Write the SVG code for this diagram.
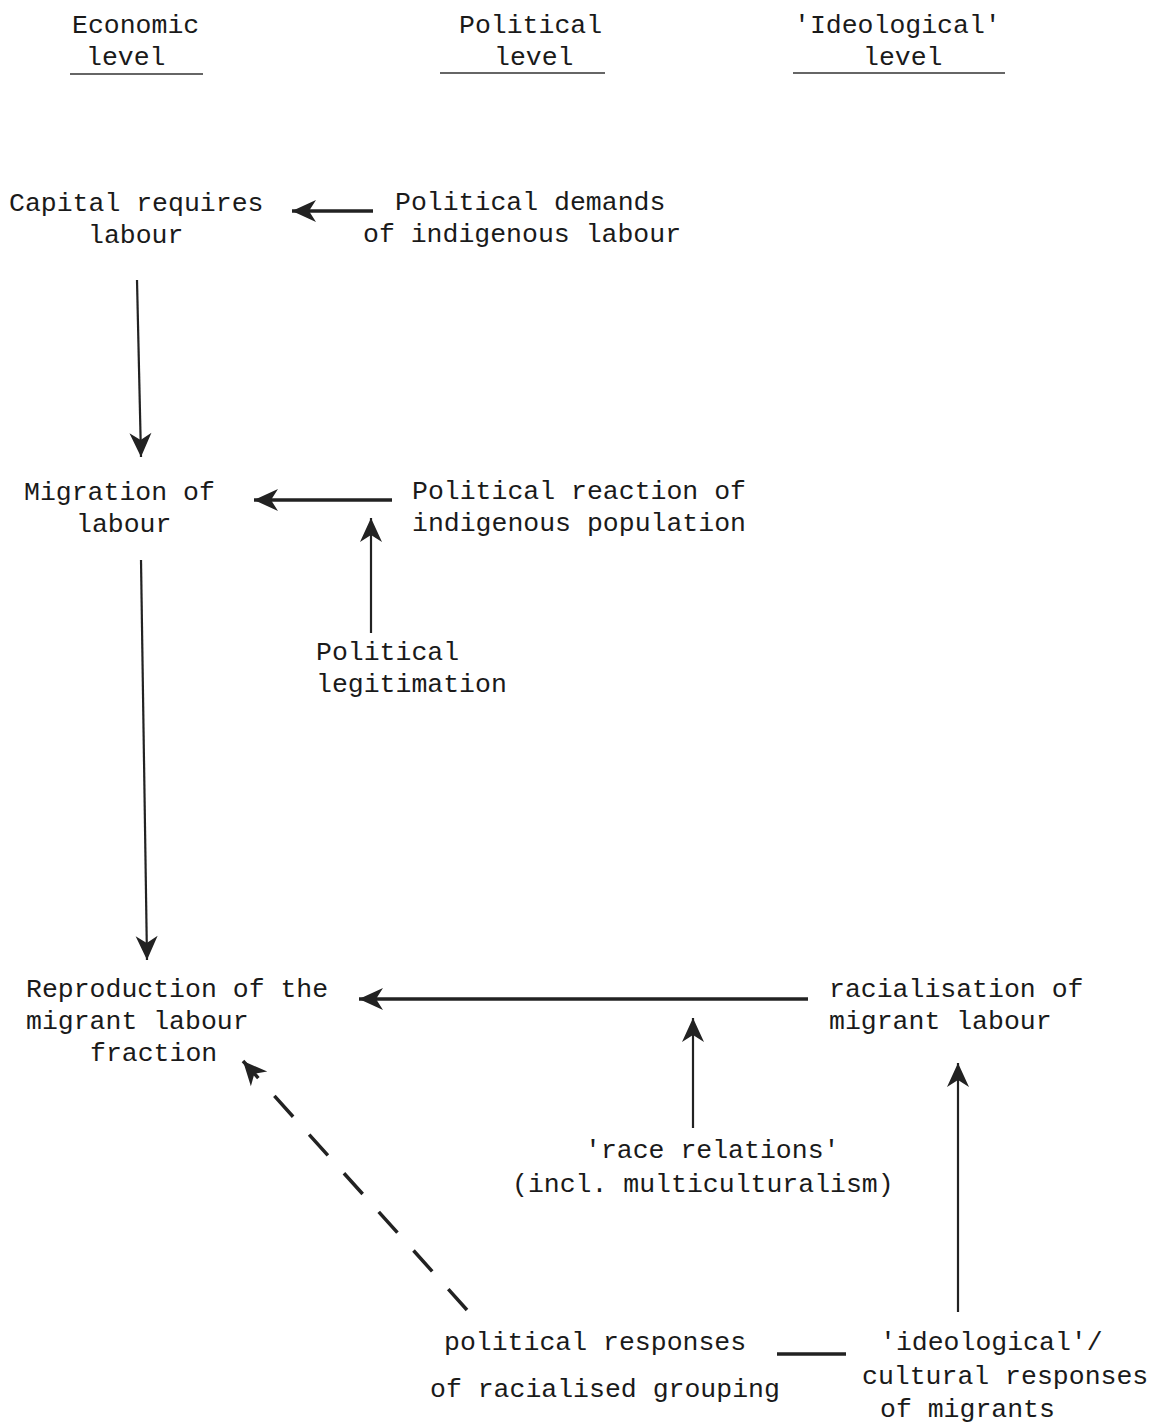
<svg xmlns="http://www.w3.org/2000/svg" width="1159" height="1424" viewBox="0 0 1159 1424">
<style>
text{font-family:"Liberation Mono","DejaVu Sans Mono",monospace;font-size:26.5px;fill:#1a1a1a}
.c{stroke:#222;fill:none}
.h{stroke-width:3.5}
.v{stroke-width:2.2}
.d{stroke-width:3.5;stroke-dasharray:28,24}
.u{stroke:#333;stroke-width:1.6}
</style>
<defs>
<marker id="ah" markerUnits="userSpaceOnUse" viewBox="-26 -13 28 26" refX="0" refY="0" markerWidth="28" markerHeight="26" orient="auto">
<path d="M0,0 L-24,-11 L-17,0 L-24,11 Z" fill="#222"/>
</marker>
</defs>
<g id="headers">
<text x="72" y="33">Economic</text><text x="86" y="65">level</text>
<line class="u" x1="70" y1="74" x2="203" y2="74"/>
<text x="459" y="33">Political</text><text x="494" y="65">level</text>
<line class="u" x1="440" y1="73" x2="605" y2="73"/>
<text x="794" y="33">'Ideological'</text><text x="863" y="65">level</text>
<line class="u" x1="793" y1="73" x2="1005" y2="73"/>
</g>
<g id="capital"><text x="9" y="211">Capital requires</text><text x="88" y="243">labour</text></g>
<g id="demands"><text x="395" y="210">Political demands</text><text x="363" y="242">of indigenous labour</text></g>
<g id="migration"><text x="24" y="500">Migration of</text><text x="76" y="532">labour</text></g>
<g id="reaction"><text x="412" y="499">Political reaction of</text><text x="412" y="531">indigenous population</text></g>
<g id="legitimation"><text x="316" y="660">Political</text><text x="316" y="692">legitimation</text></g>
<g id="reproduction"><text x="26" y="997">Reproduction of the</text><text x="26" y="1029">migrant labour</text><text x="90" y="1061">fraction</text></g>
<g id="racialisation"><text x="829" y="997">racialisation of</text><text x="829" y="1029">migrant labour</text></g>
<g id="racerelations"><text x="585" y="1158">'race relations'</text><text x="512" y="1192">(incl. multiculturalism)</text></g>
<g id="polresponses"><text x="444" y="1350">political responses</text><text x="430" y="1397">of racialised grouping</text></g>
<g id="ideoresponses"><text x="880" y="1350">'ideological'/</text><text x="862" y="1384">cultural responses</text><text x="880" y="1417">of migrants</text></g>
<g id="connectors">
<line class="c h" x1="373" y1="211" x2="292" y2="211" marker-end="url(#ah)"/>
<line class="c v" x1="137" y1="280" x2="141" y2="457" marker-end="url(#ah)"/>
<line class="c h" x1="392" y1="500" x2="254" y2="500" marker-end="url(#ah)"/>
<line class="c v" x1="371" y1="633" x2="371" y2="518" marker-end="url(#ah)"/>
<line class="c v" x1="141" y1="560" x2="147" y2="960" marker-end="url(#ah)"/>
<line class="c h" x1="808" y1="999" x2="359" y2="999" marker-end="url(#ah)"/>
<line class="c v" x1="693" y1="1128" x2="693" y2="1018" marker-end="url(#ah)"/>
<line class="c v" x1="958" y1="1312" x2="958" y2="1063" marker-end="url(#ah)"/>
<line class="c d" x1="467" y1="1310" x2="243" y2="1061" marker-end="url(#ah)"/>
<line class="c h" x1="777" y1="1354" x2="846" y2="1354"/>
</g>
</svg>
